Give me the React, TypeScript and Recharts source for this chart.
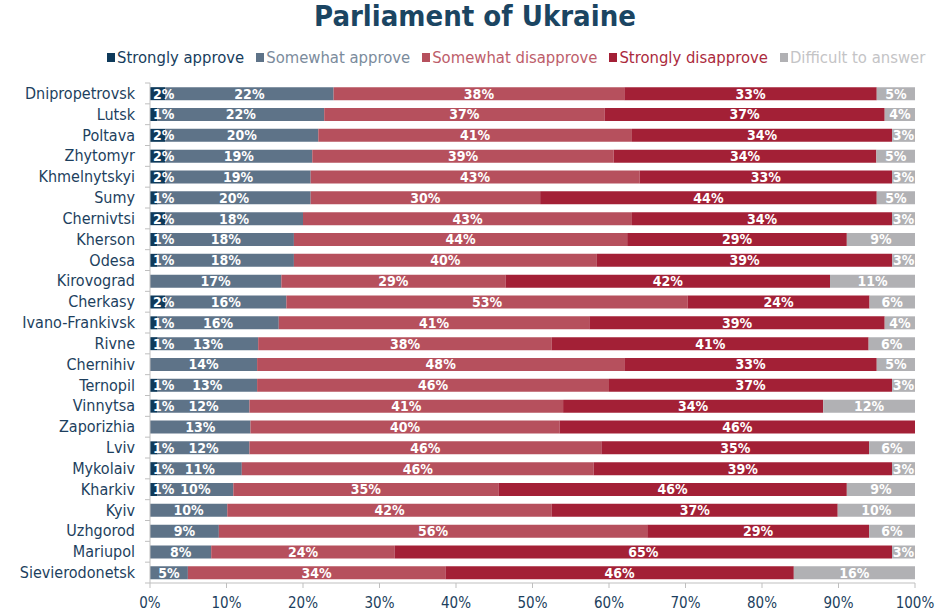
import React from "react";
import { BarChart, Bar, XAxis, YAxis, LabelList } from "recharts";

const regions = [
  "Dnipropetrovsk", "Lutsk", "Poltava", "Zhytomyr", "Khmelnytskyi", "Sumy", "Chernivtsi",
  "Kherson", "Odesa", "Kirovograd", "Cherkasy", "Ivano-Frankivsk", "Rivne", "Chernihiv",
  "Ternopil", "Vinnytsa", "Zaporizhia", "Lviv", "Mykolaiv", "Kharkiv", "Kyiv", "Uzhgorod",
  "Mariupol", "Sievierodonetsk",
];
const stronglyApprove = [2, 1, 2, 2, 2, 1, 2, 1, 1, 0, 2, 1, 1, 0, 1, 1, 0, 1, 1, 1, 0, 0, 0, 0];
const somewhatApprove = [22, 22, 20, 19, 19, 20, 18, 18, 18, 17, 16, 16, 13, 14, 13, 12, 13, 12, 11, 10, 10, 9, 8, 5];
const somewhatDisapprove = [38, 37, 41, 39, 43, 30, 43, 44, 40, 29, 53, 41, 38, 48, 46, 41, 40, 46, 46, 35, 42, 56, 24, 34];
const stronglyDisapprove = [33, 37, 34, 34, 33, 44, 34, 29, 39, 42, 24, 39, 41, 33, 37, 34, 46, 35, 39, 46, 37, 29, 65, 46];
const difficult = [5, 4, 3, 5, 3, 5, 3, 9, 3, 11, 6, 4, 6, 5, 3, 12, 0, 6, 3, 9, 10, 6, 3, 16];
const xTicks = [0, 0.1, 0.2, 0.3, 0.4, 0.5, 0.6, 0.7, 0.8, 0.9, 1];

const series = [
  { key: "sa", name: "Strongly approve", color: "#0f3a5a", text: "#173d5d" },
  { key: "swa", name: "Somewhat approve", color: "#5e7388", text: "#7b8b9c" },
  { key: "swd", name: "Somewhat disapprove", color: "#b6505d", text: "#bd5d6a" },
  { key: "sd", name: "Strongly disapprove", color: "#a32036", text: "#ab2a3d" },
  { key: "dk", name: "Difficult to answer", color: "#b1b1b4", text: "#c4c4c6" },
];

const data = regions.map((r, i) => ({
  region: r,
  sa: stronglyApprove[i],
  swa: somewhatApprove[i],
  swd: somewhatDisapprove[i],
  sd: stronglyDisapprove[i],
  dk: difficult[i],
}));

const FONT = "'DejaVu Sans Condensed', 'DejaVu Sans', sans-serif";
const PLOT_TOP = 83;
const PLOT_BOTTOM = 583;
const BAND = (PLOT_BOTTOM - PLOT_TOP) / regions.length;

const fmt = (v: any) => (v ? `${v}%` : "");

const YTick = (props: any) => {
  const { x, y, payload, index, visibleTicksCount } = props;
  const axisX = 150;
  return (
    <g>
      <text x={x} y={y} dy={5.5} textAnchor="end" fill="#1d3f5e" fontSize={16} fontFamily={FONT}>
        {payload.value}
      </text>
      <line x1={axisX - 5} x2={axisX} y1={y - BAND / 2} y2={y - BAND / 2} stroke="#bfbfbf" />
      {index === visibleTicksCount - 1 ? (
        <line x1={axisX - 5} x2={axisX} y1={y + BAND / 2} y2={y + BAND / 2} stroke="#bfbfbf" />
      ) : null}
    </g>
  );
};

const LegendBlock = () => (
  <div
    style={{
      position: "absolute",
      top: 48,
      left: 107,
      display: "flex",
      gap: 12,
      fontFamily: FONT,
      fontSize: 16.5,
      whiteSpace: "nowrap",
    }}
  >
    {series.map((s) => (
      <div key={s.key} style={{ display: "flex", alignItems: "center", color: s.text }}>
        <span
          style={{ width: 8, height: 9, background: s.color, display: "inline-block", marginRight: 2 }}
        />
        {s.name}
      </div>
    ))}
  </div>
);

export default function App() {
  return (
    <div style={{ position: "absolute", left: 0, top: 0, width: 950, height: 612, background: "#fff" }}>
      <div
        style={{
          position: "absolute",
          top: 0,
          left: 0,
          width: 950,
          height: 34,
          lineHeight: "32px",
          textAlign: "center",
          fontFamily: FONT,
          fontWeight: "bold",
          fontSize: 29,
          color: "#1b4562",
        }}
      >
        Parliament of Ukraine
      </div>
      <LegendBlock />
      <BarChart
        width={950}
        height={612}
        data={data}
        layout="vertical"
        stackOffset="expand"
        barCategoryGap="20%"
        margin={{ top: PLOT_TOP, right: 35, left: 0, bottom: 0 }}
      >
        <XAxis
          type="number"
          domain={[0, 1]}
          ticks={xTicks}
          tickFormatter={(v: number) => `${Math.round(v * 100)}%`}
          axisLine={{ stroke: "#bfbfbf" }}
          tickLine={{ stroke: "#bfbfbf" }}
          tickSize={5}
          tickMargin={9}
          height={29}
          tick={{ fill: "#1d3f5e", fontSize: 15, fontFamily: FONT }}
          interval={0}
        />
        <YAxis
          type="category"
          dataKey="region"
          width={150}
          axisLine={{ stroke: "#bfbfbf" }}
          tickLine={false}
          tickSize={6}
          tickMargin={9}
          interval={0}
          tick={<YTick />}
        />
        {series.map((s) => (
          <Bar key={s.key} dataKey={s.key} name={s.name} stackId="a" fill={s.color} isAnimationActive={false}>
            <LabelList
              dataKey={s.key}
              position={s.key === "sa" ? "insideLeft" : "center"}
              offset={s.key === "sa" ? 3 : 5}
              formatter={fmt}
              fill="#ffffff"
              fontSize={14}
              fontWeight="bold"
              fontFamily={FONT}
            />
          </Bar>
        ))}
      </BarChart>
    </div>
  );
}
